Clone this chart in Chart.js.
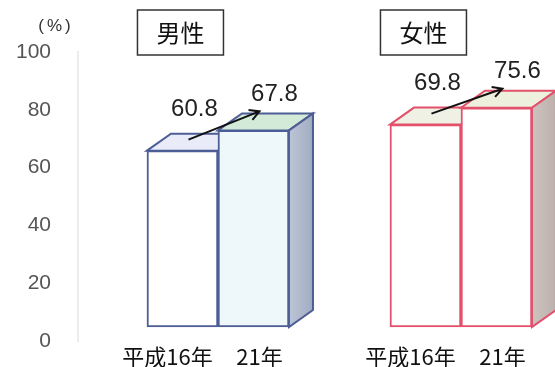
<!DOCTYPE html>
<html>
<head>
<meta charset="utf-8">
<script src="https://cdn.jsdelivr.net/npm/chart.js@4"></script>
<style>
  html, body { margin: 0; padding: 0; background: #fff; }
  #wrap { width: 555px; height: 367px; }
</style>
</head>
<body>
<div id="wrap"><canvas id="chart"></canvas></div>
<script>
// data
const groups     = ['男性', '女性'];
const yearLabels = ['平成16年', '21年'];
const h16        = [60.8, 69.8];
const h21        = [67.8, 75.6];
const yTicks     = [0, 20, 40, 60, 80, 100];

const DX = 24, DY = -17;   // depth of the fake 3D boxes

const colors = {
  border: ['#4d5d96', '#e2506b'],
  front:  [['#ffffff', '#eef8fb'], ['#ffffff', '#ffffff']],
  top:    [['#e9ebf8', '#d3ead9'], ['#eef1e4', '#edf0dc']],
  side:   [['#bcc5d6', '#a2acc1'], ['#cdc2be', '#bdb1ad']],
};

function topFace(ctx, el, fill, stroke) {
  const l = el.x - el.width / 2, r = el.x + el.width / 2, t = el.y;
  ctx.beginPath();
  ctx.moveTo(l, t);
  ctx.lineTo(l + DX, t + DY);
  ctx.lineTo(r + DX, t + DY);
  ctx.lineTo(r, t);
  ctx.closePath();
  ctx.fillStyle = fill;
  ctx.fill();
  ctx.strokeStyle = stroke;
  ctx.lineWidth = 2;
  ctx.stroke();
}

function sideFace(ctx, el, fills, stroke) {
  const r = el.x + el.width / 2, t = el.y, b = el.base;
  const g = ctx.createLinearGradient(r, 0, r + DX, 0);
  g.addColorStop(0, fills[0]);
  g.addColorStop(1, fills[1]);
  ctx.beginPath();
  ctx.moveTo(r, t);
  ctx.lineTo(r + DX, t + DY);
  ctx.lineTo(r + DX, b + DY);
  ctx.lineTo(r, b);
  ctx.closePath();
  ctx.fillStyle = g;
  ctx.fill();
  ctx.strokeStyle = stroke;
  ctx.lineWidth = 2;
  ctx.stroke();
}

function arrow(ctx, x1, y1, x2, y2) {
  const a = Math.atan2(y2 - y1, x2 - x1), len = 11, spread = 0.5;
  ctx.strokeStyle = '#111';
  ctx.lineWidth = 2;
  ctx.beginPath();
  ctx.moveTo(x1, y1);
  ctx.lineTo(x2, y2);
  ctx.moveTo(x2 - len * Math.cos(a - spread), y2 - len * Math.sin(a - spread));
  ctx.lineTo(x2, y2);
  ctx.lineTo(x2 - len * Math.cos(a + spread), y2 - len * Math.sin(a + spread));
  ctx.stroke();
}

const boxes3d = {
  id: 'boxes3d',
  // top faces of the back-left bars go first so the right bars cover them
  beforeDatasetsDraw(chart) {
    const ctx = chart.ctx;
    ctx.save();
    chart.getDatasetMeta(0).data.forEach((el, i) => {
      topFace(ctx, el, colors.top[i][0], colors.border[i]);
    });
    ctx.restore();
  },
  afterDatasetsDraw(chart) {
    const ctx = chart.ctx;
    const m0 = chart.getDatasetMeta(0).data;
    const m1 = chart.getDatasetMeta(1).data;
    ctx.save();
    m1.forEach((el, i) => {
      topFace(ctx, el, colors.top[i][1], colors.border[i]);
      sideFace(ctx, el, colors.side[i], colors.border[i]);
    });

    groups.forEach((g, i) => {
      const b1 = m0[i], b2 = m1[i];
      arrow(ctx, b1.x + 6, b1.y - 11, b2.x + 6, b2.y - 19);

      ctx.fillStyle = '#222';
      ctx.font = '24px "Liberation Sans", Arial, sans-serif';
      ctx.textAlign = 'center';
      ctx.textBaseline = 'middle';
      ctx.fillText(h16[i].toFixed(1), b1.x + 12, b1.y - 41);
      ctx.fillText(h21[i].toFixed(1), b2.x + 21, b2.y - 36);

      ctx.fillStyle = '#111';
      ctx.font = '22px "Noto Sans CJK JP", sans-serif';
      ctx.fillText(yearLabels[0], b1.x - 15, 357);
      ctx.fillText(yearLabels[1], b2.x + 6, 357);

      // group title in a box
      const cx = b1.x - 2;
      ctx.strokeStyle = '#333';
      ctx.lineWidth = 1.5;
      ctx.fillStyle = '#fff';
      ctx.fillRect(cx - 43, 10, 86, 45);
      ctx.strokeRect(cx - 43, 10, 86, 45);
      ctx.fillStyle = '#111';
      ctx.font = '24px "Noto Sans CJK JP", sans-serif';
      ctx.fillText(g, cx, 33);
    });

    ctx.fillStyle = '#333';
    ctx.font = '17px "Liberation Sans", Arial, sans-serif';
    ctx.letterSpacing = '3px';
    ctx.fillText('(%)', 56, 26);
    ctx.restore();
  },
};

new Chart(document.getElementById('chart'), {
  type: 'bar',
  data: {
    datasets: [
      {
        label: yearLabels[0],
        data: h16.map((v, i) => ({ x: i, y: v })),
        backgroundColor: colors.front.map(c => c[0]),
        borderColor: colors.border,
      },
      {
        label: yearLabels[1],
        data: h21.map((v, i) => ({ x: i, y: v })),
        backgroundColor: colors.front.map(c => c[1]),
        borderColor: colors.border,
      },
    ],
  },
  options: {
    responsive: true,
    maintainAspectRatio: false,
    animation: false,
    layout: { padding: { top: 52, bottom: 26, left: 0, right: 0 } },
    datasets: {
      bar: {
        yAxisID: 'yb',
        base: 0,
        barThickness: 71,
        borderWidth: 2,
        borderSkipped: false,
      },
    },
    scales: {
      x: { type: 'linear', offset: false, min: -0.576, max: 1.387, display: false },
      yb: { type: 'linear', min: -4.83, max: 94.83, display: false },
      y: {
        type: 'linear',
        position: 'left',
        min: 0,
        max: 100,
        afterBuildTicks: s => { s.ticks = yTicks.map(v => ({ value: v })); },
        afterFit: s => { s.width = 78; s.paddingTop = 0; s.paddingBottom = 0; },
        grid: { display: false, drawTicks: false },
        border: { display: true, color: '#ececec', width: 2 },
        ticks: {
          padding: 27,
          color: '#555',
          font: { family: '"Liberation Sans", Arial, sans-serif', size: 21 },
        },
      },
    },
    plugins: {
      legend: { display: false },
      tooltip: { enabled: false },
    },
  },
  plugins: [boxes3d],
});
</script>
</body>
</html>
